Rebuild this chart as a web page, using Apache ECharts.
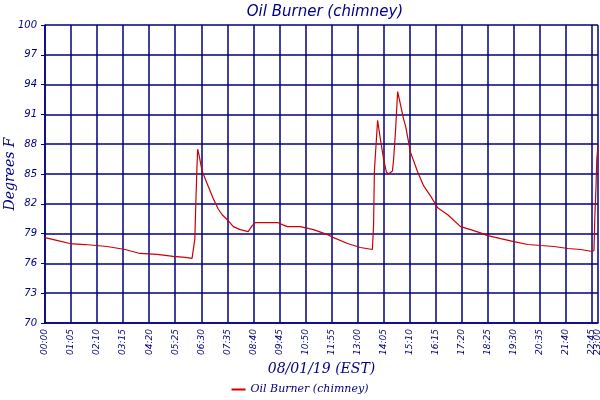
<!DOCTYPE html>
<html><head><meta charset="utf-8">
<script src="https://cdn.jsdelivr.net/npm/echarts@6/dist/echarts.min.js"></script>
<style>html,body{margin:0;padding:0;background:#fff}#c{width:600px;height:400px}</style>
</head><body><div id="c"></div>
<script>
// time in minutes after 00:00 on 08/01/19
var minutes = [0,32,62,100,155,200,237,280,320,350,367,371,374,376,379,381,385,392,405,420,432,442,455,470,487,507,517,525,582,592,605,637,670,705,720,755,787,817,820,822,827,830,837,845,852,857,867,870,875,880,887,895,900,912,930,945,962,980,1005,1037,1062,1085,1105,1137,1170,1205,1237,1270,1305,1337,1365,1370,1372,1375,1377,1380];
var temps = [78.6,78.3,78.0,77.9,77.7,77.4,77.0,76.9,76.7,76.6,76.5,76.6,78.5,81.5,85.5,87.5,86.8,85.3,84.0,82.5,81.5,80.9,80.4,79.7,79.4,79.2,79.8,80.1,80.1,79.9,79.7,79.7,79.4,78.9,78.6,78.0,77.6,77.4,79.9,85.3,88.5,90.4,88.5,86.5,85.2,85.0,85.3,86.5,89.5,93.3,92.0,90.5,89.8,87.2,85.2,83.8,82.8,81.6,80.9,79.7,79.4,79.1,78.8,78.5,78.2,77.9,77.8,77.7,77.5,77.4,77.2,77.3,80.6,83.7,86.5,87.9];
var xTicks = [0,65,130,195,260,325,390,455,520,585,650,715,780,845,910,975,1040,1105,1170,1235,1300,1365];
var xEnd = [1380];
var yTicks = [70,73,76,79,82,85,88,91,94,97,100];
var seriesName = 'Oil Burner (chimney)';

var navy = '#000080';
function hhmm(v){var h=Math.floor(v/60),m=Math.round(v%60);return (h<10?'0':'')+h+':'+(m<10?'0':'')+m;}
var data = minutes.map(function(m,i){return [m,temps[i]];});
var labelStyle = {rotate:90,fontSize:9,fontFamily:'DejaVu Sans',fontStyle:'italic',color:navy,margin:6,
  hideOverlap:false,showMinLabel:true,showMaxLabel:true,formatter:function(v){return hhmm(v);}};
var chart = echarts.init(document.getElementById('c'));
chart.setOption({
  animation:false,
  title:{text:seriesName,left:320,top:0,textAlign:'center',
    textStyle:{fontFamily:'DejaVu Sans',fontStyle:'italic',fontWeight:'normal',fontSize:15,color:navy}},
  legend:{bottom:0,left:'center',itemWidth:14,itemHeight:2,icon:'rect',
    data:[seriesName],
    textStyle:{fontFamily:'DejaVu Serif',fontStyle:'italic',fontSize:11,color:navy}},
  grid:{left:45,right:2,top:25,bottom:77,containLabel:false,outerBoundsMode:'none'},
  xAxis:[{type:'value',min:0,max:xEnd[0],interval:65,
    name:'08/01/19 (EST)',nameLocation:'middle',nameGap:39,
    nameTextStyle:{fontFamily:'DejaVu Serif',fontStyle:'italic',fontSize:14,color:navy},
    axisLine:{show:true,lineStyle:{color:navy,width:1.5}},
    axisTick:{show:false},
    splitLine:{show:true,lineStyle:{color:navy,width:1.5}},
    axisLabel:Object.assign({customValues:xTicks},labelStyle)
  },{type:'value',min:0,max:xEnd[0],position:'bottom',
    axisLine:{show:false},axisTick:{show:false},splitLine:{show:false},
    axisLabel:Object.assign({customValues:xEnd},labelStyle)
  }],
  yAxis:{type:'value',min:yTicks[0],max:yTicks[yTicks.length-1],interval:3,offset:2,
    name:'Degrees F',nameLocation:'middle',nameGap:26,nameMoveOverlap:false,
    nameTextStyle:{fontFamily:'DejaVu Serif',fontStyle:'italic',fontSize:14,color:navy},
    axisLine:{show:true,lineStyle:{color:navy,width:1.5}},
    axisTick:{show:true,length:4,lineStyle:{color:navy}},
    splitLine:{show:true,lineStyle:{color:navy,width:1.5}},
    axisLabel:{fontSize:10,fontFamily:'DejaVu Sans',fontStyle:'italic',color:navy,margin:6}
  },
  series:[{name:seriesName,type:'line',data:data,showSymbol:false,xAxisIndex:0,
    lineStyle:{color:'#cc0000',width:1.2},itemStyle:{color:'#cc0000'}}]
});
</script></body></html>
